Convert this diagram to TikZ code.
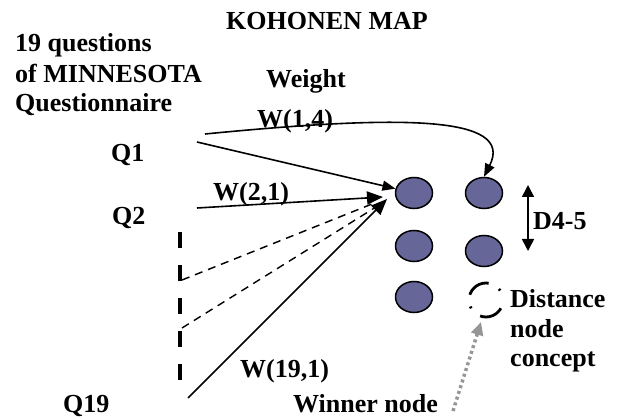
\documentclass[tikz,border=0pt]{standalone}
\usepackage{fontspec}
\setmainfont{Liberation Serif}
\usetikzlibrary{shapes.geometric,arrows.meta}
\definecolor{nodeblue}{RGB}{102,102,153}
\definecolor{pointgray}{RGB}{150,150,150}
\tikzset{
  lbl/.style={anchor=base west, inner sep=0pt, font=\bfseries\fontsize{26}{30}\selectfont},
  neuron/.style={ellipse, draw=black, line width=1.5pt, fill=nodeblue,
    minimum width=37pt, minimum height=31pt, inner sep=0pt},
  winner/.style={circle, draw=black, line width=2.8pt, minimum size=34pt, inner sep=0pt,
    dash pattern=on 24pt off 12pt on 2pt off 12pt, dash phase=26pt},
  conn/.style={line width=1.6pt, -{Triangle[length=13pt,width=10pt]}},
  bigconn/.style={line width=1.6pt, -{Triangle[length=16pt,width=13pt]}},
  dconn/.style={line width=1.4pt, dash pattern=on 8pt off 6pt},
  vdash/.style={line width=3.5pt, dash pattern=on 16pt off 17pt},
  pointer/.style={draw=pointgray, line width=3.5pt, dash pattern=on 3pt off 3pt,
    -{Triangle[length=13pt,width=12pt,fill=pointgray]}},
  dist/.style={line width=1.6pt, {Triangle[length=12pt,width=12pt]}-{Triangle[length=12pt,width=12pt]}}
}
\begin{document}
\begin{tikzpicture}[x=1pt,y=-1pt]
\useasboundingbox (0,0) rectangle (628,419);
% texts
\node[lbl] (title) at (226,30) {KOHONEN MAP};
\node[lbl] (t1) at (15,52) {19 questions};
\node[lbl] (t2) at (15,83) {of MINNESOTA};
\node[lbl] (t3) at (15,112) {Questionnaire};
\node[lbl] (weight) at (266,88) {Weight};
\node[lbl] (w14) at (257,128) {W(1,4)};
\node[lbl] (q1) at (111,162) {Q1};
\node[lbl] (w21) at (213,201) {W(2,1)};
\node[lbl] (q2) at (112,225) {Q2};
\node[lbl] (w191) at (240,377) {W(19,1)};
\node[lbl] (q19) at (63,412) {Q19};
\node[lbl] (winnerlbl) at (293,412) {Winner node};
\node[lbl] (d45) at (533,230) {D4-5};
\node[lbl] (dl1) at (510,307) {Distance};
\node[lbl] (dl2) at (510,337) {node};
\node[lbl] (dl3) at (510,366) {concept};
% map nodes
\node[neuron] (e11) at (414,193) {};
\node[neuron] (e12) at (484,193) {};
\node[neuron] (e21) at (414,246) {};
\node[neuron] (e22) at (484,251) {};
\node[neuron] (e31) at (414,297) {};
\node[winner] (win) at (486,300) {};
% connector ends
\coordinate (q1a) at (205,134);
\coordinate (q1b) at (197,142);
\coordinate (q2a) at (197,208);
\coordinate (q2tip) at (383,197);
\coordinate (vtop) at (180,232);
\coordinate (vbot) at (180,381);
\coordinate (d1) at (182,280);
\coordinate (d1tip) at (372,204);
\coordinate (d2) at (182,328);
\coordinate (d2tip) at (376,207);
\coordinate (q19a) at (188,398);
\coordinate (q19tip) at (387,199);
\coordinate (wtail) at (453,411);
\coordinate (wtip) at (481,322);
\coordinate (dtop) at (528,185);
\coordinate (dbot) at (528,251);
% connectors
\draw[conn] (q1a) .. controls (400,115) and (515,115) .. (e12.north);
\draw[conn] (q1b) -- (e11);
\draw[vdash] (vtop) -- (vbot);
\draw[dconn] (d1) -- (d1tip);
\draw[dconn] (d2) -- (d2tip);
\draw[bigconn] (q2a) -- (q2tip);
\draw[bigconn] (q19a) -- (q19tip);
\draw[pointer] (wtail) -- (wtip);
\draw[dist] (dtop) -- (dbot);
\end{tikzpicture}
\end{document}
